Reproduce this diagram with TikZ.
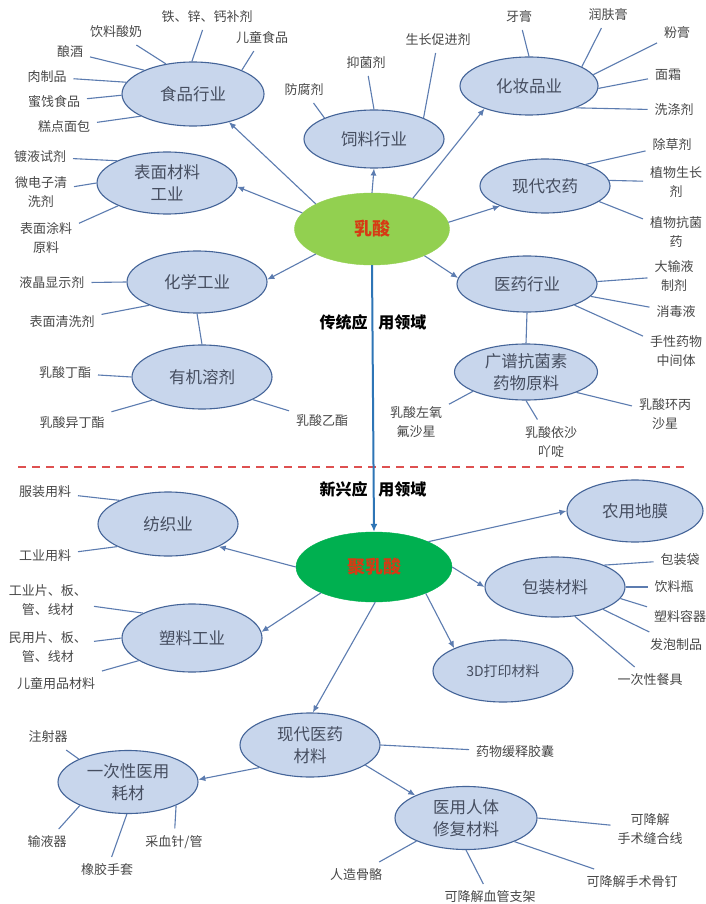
\documentclass[tikz,border=0pt]{standalone}
\usepackage{fontspec}
\setmainfont{Noto Sans CJK SC}
\usetikzlibrary{shapes.geometric,arrows.meta}
\definecolor{efill}{RGB}{200,214,236}
\definecolor{ebord}{RGB}{68,100,152}
\definecolor{etext}{RGB}{70,78,96}
\definecolor{ltext}{RGB}{72,72,72}
\definecolor{lcol}{RGB}{92,124,176}
\definecolor{vcol}{RGB}{46,117,182}
\definecolor{lgreen}{RGB}{146,208,80}
\definecolor{dgreen}{RGB}{0,176,80}
\definecolor{redt}{RGB}{214,58,20}
\definecolor{dashred}{RGB}{222,80,80}
\tikzset{
  cat/.style={ellipse, draw=ebord, fill=efill, line width=1.1pt, inner sep=0pt,
    text=etext, font=\fontsize{16.5}{22}\selectfont, align=center},
  leaf/.style={text=ltext, font=\fontsize{13}{19}\selectfont, align=center,
    inner sep=2pt, outer sep=5pt},
  conn/.style={draw=lcol, line width=1.1pt},
  arr/.style={conn, -{Latex[length=7pt,width=6pt]}},
  hdr/.style={font=\fontsize{16}{20}\selectfont\bfseries, text=black},
}
\begin{document}
\begin{tikzpicture}[x=1pt,y=-1pt]
\useasboundingbox (0,0) rectangle (705,904);
\fill[white] (0,0) rectangle (705,904);

% ---- category ellipses (upper) ----
\node[cat, minimum width=142pt, minimum height=64pt] (food) at (193,94) {食品行业};
\node[cat, minimum width=140pt, minimum height=58pt] (feed) at (374,139) {饲料行业};
\node[cat, minimum width=138pt, minimum height=58pt] (cosm) at (529,86) {化妆品业};
\node[cat, minimum width=140pt, minimum height=62pt] (surf) at (167,183) {表面材料\\工业};
\node[cat, minimum width=130pt, minimum height=54pt] (agri) at (545,186) {现代农药};
\node[cat, minimum width=140pt, minimum height=62pt] (chem) at (197,282) {化学工业};
\node[cat, minimum width=140pt, minimum height=64pt] (org) at (202,377) {有机溶剂};
\node[cat, minimum width=140pt, minimum height=56pt] (med) at (527,284) {医药行业};
\node[cat, minimum width=143pt, minimum height=56pt] (anti) at (526,372) {广谱抗菌素\\药物原料};
\node[ellipse, fill=lgreen, draw=lgreen, inner sep=0pt, minimum width=155pt, minimum height=72pt,
  text=redt, font=\fontsize{18}{22}\selectfont\bfseries] (lactic) at (372,229) {乳酸};

% ---- category ellipses (lower) ----
\node[ellipse, fill=dgreen, draw=dgreen, inner sep=0pt, minimum width=156pt, minimum height=70pt,
  text=redt, font=\fontsize{18}{22}\selectfont\bfseries] (pla) at (374,567) {聚乳酸};
\node[cat, minimum width=140pt, minimum height=64pt] (textile) at (168,524) {纺织业};
\node[cat, minimum width=140pt, minimum height=68pt] (plast) at (192,638) {塑料工业};
\node[cat, minimum width=136pt, minimum height=62pt] (film) at (635,511) {农用地膜};
\node[cat, minimum width=140pt, minimum height=60pt] (pack) at (555,587) {包装材料};
\node[cat, minimum width=140pt, minimum height=62pt, font=\fontsize{14}{18}\selectfont] (print) at (503,671) {3D打印材料};
\node[cat, minimum width=140pt, minimum height=64pt] (modmed) at (310,745) {现代医药\\材料};
\node[cat, minimum width=140pt, minimum height=63pt] (disp) at (128,782) {一次性医用\\耗材};
\node[cat, minimum width=142pt, minimum height=63pt] (repair) at (466,818) {医用人体\\修复材料};

% ---- section divider and headers ----
\coordinate (dl) at (18,467);
\coordinate (dr) at (688,467);
\draw[dashred, line width=1.5pt, dash pattern=on 8pt off 6pt] (dl) -- (dr);
\node[hdr] (h1) at (373,322) {传统应\hspace{11pt}用领域};
\node[hdr] (h2) at (373,489) {新兴应\hspace{11pt}用领域};

% ---- main vertical arrow ----
\draw[vcol, line width=2pt, -{Latex[length=8pt,width=7pt]}] (lactic.south) -- (pla.north);

% ---- arrows from 乳酸 ----
\draw[arr] (lactic.156) -- (food.322);
\draw[arr] (lactic.90) -- (feed.270);
\draw[arr] (lactic.37) -- (cosm.207);
\draw[arr] (lactic.167) -- (surf.-3);
\draw[arr] (lactic.5) -- (agri.204);
\draw[arr] (lactic.204) -- (chem.2);
\draw[arr] (lactic.-27) -- (med.175);
\draw[conn] (chem.south) -- (org.north);
\draw[conn] (med.south) -- (anti.north);

% ---- arrows from 聚乳酸 ----
\draw[arr] (pla.180) -- (textile.-24);
\draw[arr] (pla.206) -- (plast.5);
\draw[arr] (pla.25) -- (film.180);
\draw[arr] (pla.0) -- (pack.180);
\draw[arr] (pla.-27) -- (print.155);
\draw[arr] (pla.-88) -- (modmed.85);
\draw[arr] (modmed.204) -- (disp.2);
\draw[arr] (modmed.-20) -- (repair.156);

% ---- leaves: 食品行业 ----
\node[leaf] (f1) at (116,32) {饮料酸奶};
\node[leaf] (f2) at (207,17) {铁、锌、钙补剂};
\node[leaf] (f3) at (262,38) {儿童食品};
\node[leaf] (f4) at (70,52) {酿酒};
\node[leaf] (f5) at (47,77) {肉制品};
\node[leaf] (f6) at (54,102) {蜜饯食品};
\node[leaf] (f7) at (64,127) {糕点面包};
\draw[conn] (f1) -- (food.132);
\draw[conn] (f2) -- (food.92);
\draw[conn] (f3) -- (food.26);
\draw[conn] (f4) -- (food.154);
\draw[conn] (f5) -- (food.170);
\draw[conn] (f6) -- (food.181);
\draw[conn] (f7) -- (food.203);

% ---- leaves: 饲料行业 ----
\node[leaf] (g1) at (304,90) {防腐剂};
\node[leaf] (g2) at (366,63) {抑菌剂};
\node[leaf] (g3) at (438,40) {生长促进剂};
\draw[conn] (g1) -- (feed.157);
\draw[conn] (g2) -- (feed.90);
\draw[conn] (g3) -- (feed.23);

% ---- leaves: 化妆品业 ----
\node[leaf] (c1) at (519,17) {牙膏};
\node[leaf] (c2) at (608,15) {润肤膏};
\node[leaf] (c3) at (677,33) {粉膏};
\node[leaf] (c4) at (668,75) {面霜};
\node[leaf] (c5) at (674,110) {洗涤剂};
\draw[conn] (c1) -- (cosm.90);
\draw[conn] (c2) -- (cosm.20);
\draw[conn] (c3) -- (cosm.10);
\draw[conn] (c4) -- (cosm.-2);
\draw[conn] (c5) -- (cosm.-25);

% ---- leaves: 表面材料工业 ----
\node[leaf] (s1) at (40,157) {镀液试剂};
\node[leaf] (s2) at (41,192) {微电子清\\洗剂};
\node[leaf] (s3) at (46,238) {表面涂料\\原料};
\draw[conn] (s1) -- (surf.156);
\draw[conn] (s2) -- (surf.180);
\draw[conn] (s3) -- (surf.205);

% ---- leaves: 现代农药 ----
\node[leaf] (a1) at (672,145) {除草剂};
\node[leaf] (a2) at (676,182) {植物生长\\剂};
\node[leaf] (a3) at (676,232) {植物抗菌\\药};
\draw[conn] (a1) -- (agri.28);
\draw[conn] (a2) -- (agri.5);
\draw[conn] (a3) -- (agri.-16);

% ---- leaves: 化学工业 ----
\node[leaf] (x1) at (52,283) {液晶显示剂};
\node[leaf] (x2) at (62,322) {表面清洗剂};
\draw[conn] (x1) -- (chem.180);
\draw[conn] (x2) -- (chem.206);

% ---- leaves: 有机溶剂 ----
\node[leaf] (o1) at (65,373) {乳酸丁酯};
\node[leaf] (o2) at (72,423) {乳酸异丁酯};
\node[leaf] (o3) at (322,421) {乳酸乙酯};
\draw[conn] (o1) -- (org.180);
\draw[conn] (o2) -- (org.205);
\draw[conn] (o3) -- (org.-24);

% ---- leaves: 医药行业 ----
\node[leaf] (m1) at (674,276) {大输液\\制剂};
\node[leaf] (m2) at (676,312) {消毒液};
\node[leaf] (m3) at (676,351) {手性药物\\中间体};
\draw[conn] (m1) -- (med.2);
\draw[conn] (m2) -- (med.-11);
\draw[conn] (m3) -- (med.-24);

% ---- leaves: 广谱抗菌素药物原料 ----
\node[leaf] (b1) at (416,422) {乳酸左氧\\氟沙星};
\node[leaf] (b2) at (551,442) {乳酸依沙\\吖啶};
\node[leaf] (b3) at (665,414) {乳酸环丙\\沙星};
\draw[conn] (b1) -- (anti.200);
\draw[conn] (b2) -- (anti.270);
\draw[conn] (b3) -- (anti.-22);

% ---- leaves: 纺织业 ----
\node[leaf] (t1) at (45,492) {服装用料};
\node[leaf] (t2) at (45,556) {工业用料};
\draw[conn] (t1) -- (textile.154);
\draw[conn] (t2) -- (textile.204);

% ---- leaves: 塑料工业 ----
\node[leaf] (p1) at (48,600) {工业片、板、\\管、线材};
\node[leaf] (p2) at (48,647) {民用片、板、\\管、线材};
\node[leaf] (p3) at (56,684) {儿童用品材料};
\draw[conn] (p1) -- (plast.153);
\draw[conn] (p2) -- (plast.180);
\draw[conn] (p3) -- (plast.203);

% ---- leaves: 包装材料 ----
\node[leaf] (k1) at (680,560) {包装袋};
\node[leaf] (k2) at (674,587) {饮料瓶};
\node[leaf] (k3) at (680,617) {塑料容器};
\node[leaf] (k4) at (676,645) {发泡制品};
\node[leaf] (k5) at (650,680) {一次性餐具};
\draw[conn] (k1) -- (pack.24);
\draw[conn] (k2) -- (pack.0);
\draw[conn] (k3) -- (pack.-10);
\draw[conn] (k4) -- (pack.-25);
\draw[conn] (k5) -- (pack.-56);

% ---- leaves: 现代医药材料 ----
\node[leaf] (d0) at (515,752) {药物缓释胶囊};
\draw[conn] (d0) -- (modmed.0);

% ---- leaves: 一次性医用耗材 ----
\node[leaf] (e1) at (48,737) {注射器};
\node[leaf] (e2) at (47,842) {输液器};
\node[leaf] (e3) at (107,870) {橡胶手套};
\node[leaf] (e4) at (174,842) {采血针/管};
\draw[conn] (e1) -- (disp.155);
\draw[conn] (e2) -- (disp.206);
\draw[conn] (e3) -- (disp.268);
\draw[conn] (e4) -- (disp.-26);

% ---- leaves: 医用人体修复材料 ----
\node[leaf] (r1) at (650,829) {可降解\\手术缝合线};
\node[leaf] (r2) at (632,882) {可降解手术骨钉};
\node[leaf] (r3) at (490,897) {可降解血管支架};
\node[leaf] (r4) at (356,875) {人造骨骼};
\draw[conn] (r1) -- (repair.0);
\draw[conn] (r2) -- (repair.-26);
\draw[conn] (r3) -- (repair.270);
\draw[conn] (r4) -- (repair.205);
\end{tikzpicture}
\end{document}
